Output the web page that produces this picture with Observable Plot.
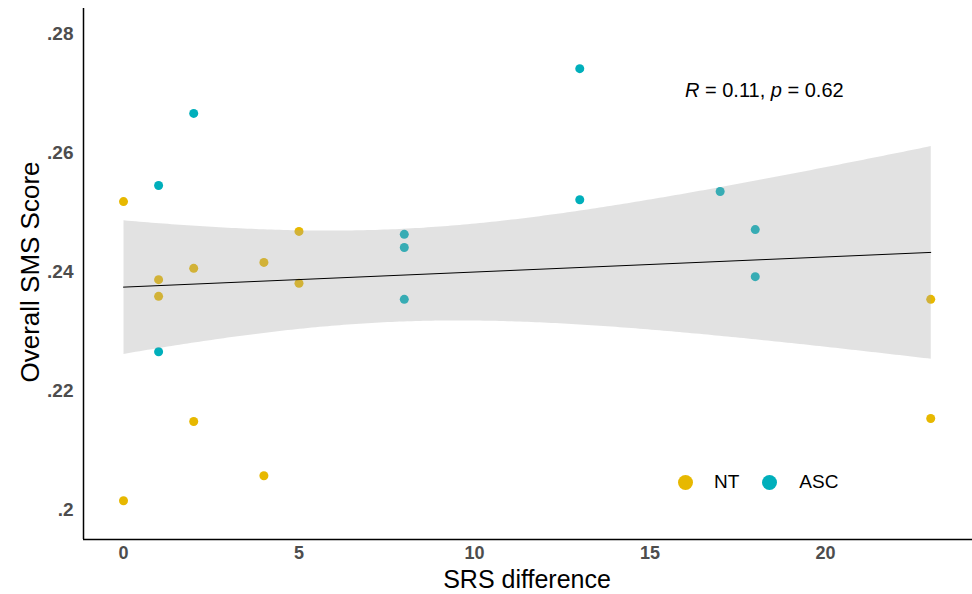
<!DOCTYPE html>
<html>
<head>
<meta charset="utf-8">
<script src="https://cdn.jsdelivr.net/npm/d3@7"></script>
<script src="https://cdn.jsdelivr.net/npm/@observablehq/plot@0.6"></script>
<style>
  body { margin: 0; background: #fff; }
  #wrap { position: relative; width: 972px; height: 594px; font-family: "Liberation Sans", Arial, sans-serif; }
  #wrap svg g[aria-label^="y-axis"] text { font: bold 19px "Liberation Sans", Arial, sans-serif; fill: #4d4d4d; }
  #wrap svg g[aria-label^="x-axis"] text { font: bold 18px "Liberation Sans", Arial, sans-serif; fill: #4d4d4d; }
  .title { position: absolute; font-size: 25px; line-height: 1; color: #000; white-space: nowrap; }
  #ann { position: absolute; left: 685px; top: 79px; font-size: 20px; color: #000; white-space: nowrap; }
  #legend { position: absolute; left: 678px; top: 472px; height: 20px; display: flex; align-items: center; font-size: 19px; color: #000; }
  .sw { width: 15px; height: 15px; border-radius: 50%; display: inline-block; }
</style>
</head>
<body>
<div id="wrap"></div>
<script>
// ---- data ----
const groups = ["NT", "ASC"];
const groupColors = ["#E7B800", "#00AFBB"];
const ntX = [0, 0, 1, 1, 2, 2, 4, 4, 5, 5, 23, 23];
const ntY = [0.2518, 0.2016, 0.2387, 0.2359, 0.2406, 0.2149, 0.2416, 0.2058, 0.2468, 0.2381, 0.2354, 0.2154];
const ascX = [1, 1, 2, 8, 8, 8, 13, 13, 17, 18, 18];
const ascY = [0.2545, 0.2266, 0.2666, 0.2463, 0.2441, 0.2354, 0.2741, 0.2521, 0.2535, 0.2471, 0.2392];
const xTicks = [0, 5, 10, 15, 20];
const yTicks = [0.2, 0.22, 0.24, 0.26, 0.28];
const xTitle = "SRS difference";
const yTitle = "Overall SMS Score";
const statR = "0.11";
const statP = "0.62";

const data = [
  ...ntX.map((x, i) => ({x, y: ntY[i], g: "NT"})),
  ...ascX.map((x, i) => ({x, y: ascY[i], g: "ASC"}))
];
const xDomain = [-1.14, 24.19];
const yDomain = [0.1951, 0.2842];

const chart = Plot.plot({
  width: 972,
  height: 594,
  marginLeft: 83,
  marginRight: 0,
  marginTop: 8,
  marginBottom: 55,
  style: {fontFamily: "Liberation Sans, Arial, sans-serif", background: "#fff"},
  x: {domain: xDomain, ticks: xTicks, tickSize: 0, tickPadding: 7, label: null, tickFormat: d => String(d)},
  y: {domain: yDomain, ticks: yTicks, tickSize: 0, tickPadding: 10, label: null,
      tickFormat: d => String(d).replace(/^0/, "")},
  color: {domain: groups, range: groupColors},
  marks: [
    Plot.dot(data, {x: "x", y: "y", fill: "g", r: 4.5, stroke: "none"}),
    Plot.linearRegressionY(data, {x: "x", y: "y", stroke: "#000", strokeWidth: 1, fill: "#a6a6a6", fillOpacity: 0.33}),
    Plot.ruleX([xDomain[0]], {stroke: "#000", strokeWidth: 1.5}),
    Plot.ruleY([yDomain[0]], {stroke: "#000", strokeWidth: 1.5})
  ]
});

const wrap = document.getElementById("wrap");
wrap.appendChild(chart);

const xt = document.createElement("div");
xt.className = "title";
xt.textContent = xTitle;
xt.style.left = "527px"; xt.style.top = "567px"; xt.style.transform = "translateX(-50%)";
wrap.appendChild(xt);

const yt = document.createElement("div");
yt.className = "title";
yt.textContent = yTitle;
yt.style.fontSize = "26px";
yt.style.left = "30px"; yt.style.top = "272px";
yt.style.transform = "translate(-50%, -50%) rotate(-90deg)";
wrap.appendChild(yt);

const ann = document.createElement("div");
ann.id = "ann";
ann.innerHTML = `<i>R</i> = ${statR}, <i>p</i> = ${statP}`;
wrap.appendChild(ann);

const leg = document.createElement("div");
leg.id = "legend";
leg.innerHTML =
  `<span class="sw" style="background:${groupColors[0]}"></span><span style="margin-left:21px">${groups[0]}</span>` +
  `<span class="sw" style="background:${groupColors[1]};margin-left:23px"></span><span style="margin-left:22px">${groups[1]}</span>`;
wrap.appendChild(leg);
</script>
</body>
</html>
